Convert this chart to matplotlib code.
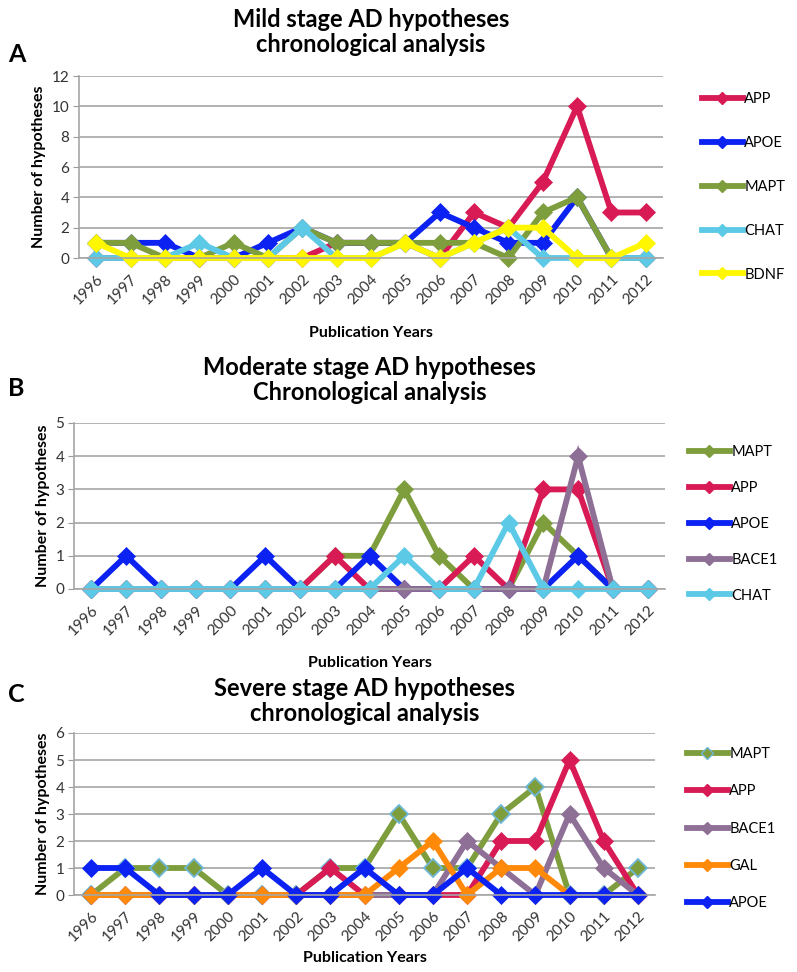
import matplotlib
matplotlib.use("Agg")
import matplotlib.pyplot as plt
from matplotlib.lines import Line2D

plt.rcParams['font.family'] = ['Lato', 'DejaVu Sans']

years = [str(y) for y in range(1996, 2013)]

# Panel A: Mild stage
mild_labels = ["APP", "APOE", "MAPT", "CHAT", "BDNF"]
mild_app = [0, 0, 0, 0, 0, 0, 0, 1, 1, 1, 0, 3, 2, 5, 10, 3, 3]
mild_apoe = [1, 1, 1, 0, 0, 1, 2, 1, 1, 1, 3, 2, 1, 1, 4, 0, 0]
mild_mapt = [1, 1, 0, 0, 1, 0, 2, 1, 1, 1, 1, 1, 0, 3, 4, 0, 0]
mild_chat = [0, 0, 0, 1, 0, 0, 2, 0, 0, 1, 0, 1, 2, 0, 0, 0, 0]
mild_bdnf = [1, 0, 0, 0, 0, 0, 0, 0, 0, 1, 0, 1, 2, 2, 0, 0, 1]

# Panel B: Moderate stage
mod_labels = ["MAPT", "APP", "APOE", "BACE1", "CHAT"]
mod_mapt = [0, 0, 0, 0, 0, 0, 0, 1, 1, 3, 1, 0, 0, 2, 1, 0, 0]
mod_app = [0, 0, 0, 0, 0, 0, 0, 1, 0, 0, 0, 1, 0, 3, 3, 0, 0]
mod_apoe = [0, 1, 0, 0, 0, 1, 0, 0, 1, 0, 0, 0, 0, 0, 1, 0, 0]
mod_bace1 = [0, 0, 0, 0, 0, 0, 0, 0, 0, 0, 0, 0, 0, 0, 4, 0, 0]
mod_chat = [0, 0, 0, 0, 0, 0, 0, 0, 0, 1, 0, 0, 2, 0, 0, 0, 0]

# Panel C: Severe stage
sev_labels = ["MAPT", "APP", "BACE1", "GAL", "APOE"]
sev_mapt = [0, 1, 1, 1, 0, 0, 0, 1, 1, 3, 1, 1, 3, 4, 0, 0, 1]
sev_app = [0, 0, 0, 0, 0, 0, 0, 1, 0, 0, 0, 0, 2, 2, 5, 2, 0]
sev_bace1 = [0, 0, 0, 0, 0, 0, 0, 0, 0, 0, 0, 2, 1, 0, 3, 1, 0]
sev_gal = [0, 0, 0, 0, 0, 0, 0, 0, 0, 1, 2, 0, 1, 1, 0, 0, 0]
sev_apoe = [1, 1, 0, 0, 0, 1, 0, 0, 1, 0, 0, 1, 0, 0, 0, 0, 0]

colors = {
    "APP": "#D81B55",
    "APOE": "#0B22F2",
    "MAPT": "#7E9E3D",
    "CHAT": "#5CC9E6",
    "BDNF": "#FFF700",
    "BACE1": "#8E6F96",
    "GAL": "#FF8A0A",
}

fig = plt.figure(figsize=(7.97, 9.72), dpi=100)
W, H = 797, 972


def fx(x):
    return x / W


def fy(y):
    return 1 - y / H


def panel(rect, labels, series, ymax, ystep, title, letter, title_y, letter_y,
          xlabel_y, leg_x, leg_y, leg_spacing, mapt_edge=False):
    l, t, r, b = rect
    ax = fig.add_axes([fx(l), fy(b), fx(r) - fx(l), fy(t) - fy(b)])
    x = list(range(len(years)))
    for lab, vals in zip(labels, series):
        c = colors[lab]
        mec = c
        if mapt_edge and lab == "MAPT":
            mec = "#6FB7D6"
        ax.plot(x, vals, color=c, lw=4.2, marker="D", ms=9.5, mfc=c, mec=mec,
                mew=1.3 if mec != c else 0.5, solid_joinstyle="miter", clip_on=False)
    ax.set_xlim(-0.5, len(years) - 0.5)
    ax.set_ylim(0, ymax)
    ax.set_yticks(range(0, ymax + 1, ystep))
    ax.set_xticks(x)
    ax.set_xticklabels(years, rotation=45, ha="right", rotation_mode="anchor",
                       fontsize=11, color="#333333")
    ax.tick_params(axis="x", length=0, pad=10)
    ax.tick_params(axis="y", length=4, color="#9A9A9A", labelsize=11,
                   labelcolor="#333333", pad=3)
    ax.grid(axis="y", color="#A6A6A6", lw=1.2)
    ax.set_axisbelow(True)
    for s in ["top", "right"]:
        ax.spines[s].set_visible(False)
    for s in ["left", "bottom"]:
        ax.spines[s].set_color("#A6A6A6")
        ax.spines[s].set_linewidth(1.2)
    ax.set_ylabel("Number of hypotheses", fontsize=11.5, fontweight="bold", labelpad=4)
    fig.text(fx((l + r) / 2), fy(xlabel_y), "Publication Years", ha="center", va="center",
             fontsize=11.5, fontweight="bold")
    fig.text(fx((l + r) / 2), fy(title_y), title, ha="center", va="center",
             fontsize=17, fontweight="bold", linespacing=1.15)
    fig.text(fx(8), fy(letter_y), letter, ha="left", va="center",
             fontsize=18, fontweight="bold")
    handles = [Line2D([0], [0], color=colors[lab], lw=4.2, marker="D", ms=6,
                      mec=("#6FB7D6" if (mapt_edge and lab == "MAPT") else colors[lab]))
               for lab in labels]
    fig.legend(handles, labels, loc="upper left", bbox_to_anchor=(fx(leg_x), fy(leg_y)),
               frameon=False, fontsize=10.5, handlelength=2.8, handletextpad=0.1,
               labelspacing=leg_spacing, borderpad=0, borderaxespad=0)
    return ax


panel((79, 76, 663, 258), mild_labels,
      [mild_app, mild_apoe, mild_mapt, mild_chat, mild_bdnf], 12, 2,
      "Mild stage AD hypotheses\nchronological analysis", "A", 32, 55, 333,
      702, 92, 2.05)

panel((74, 423, 665, 589), mod_labels,
      [mod_mapt, mod_app, mod_apoe, mod_bace1, mod_chat], 5, 1,
      "Moderate stage AD hypotheses\nChronological analysis", "B", 380, 388, 663,
      689, 445, 1.5)

panel((74, 733, 655, 895), sev_labels,
      [sev_mapt, sev_app, sev_bace1, sev_gal, sev_apoe], 6, 1,
      "Severe stage AD hypotheses\nchronological analysis", "C", 701, 695, 958,
      687, 747, 1.6, mapt_edge=True)

fig.savefig("out.png", dpi=100)
